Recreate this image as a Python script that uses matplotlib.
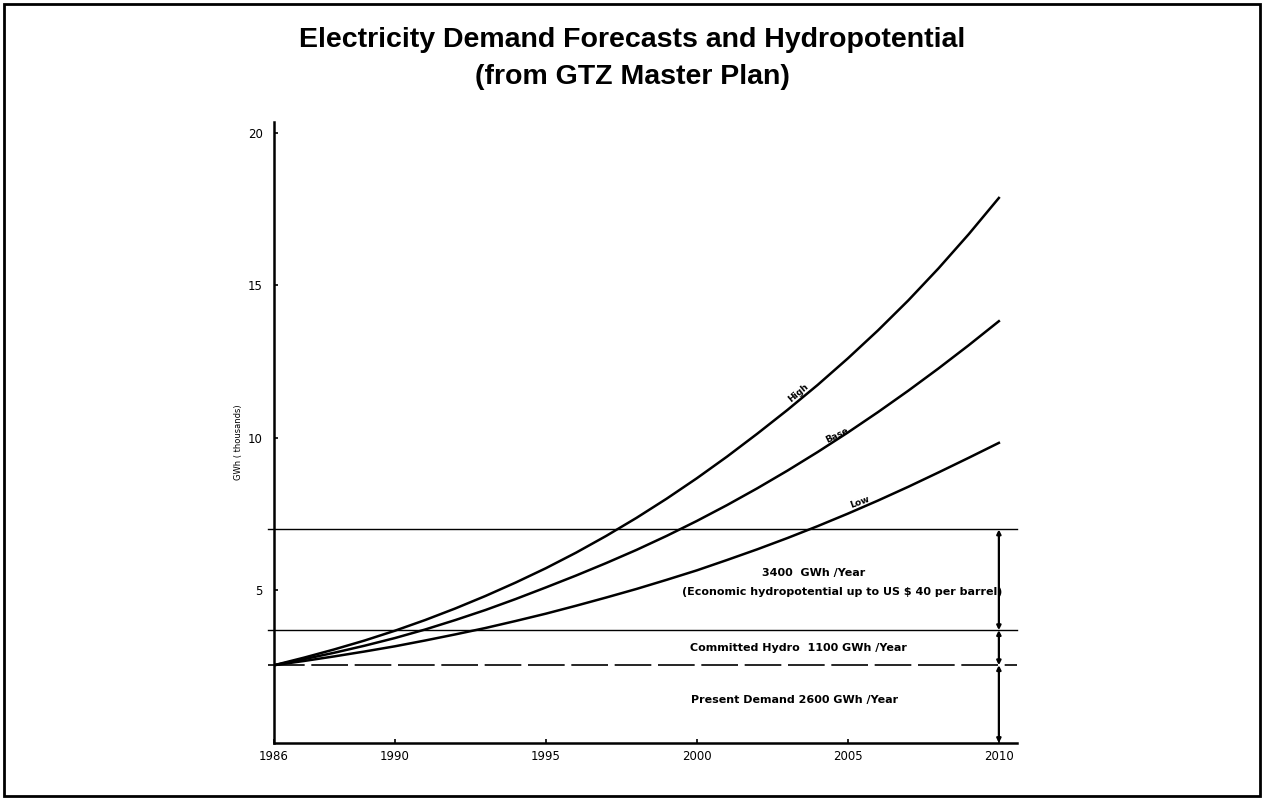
import matplotlib.pyplot as plt
from matplotlib.patches import Rectangle

# forecast curves (GWh thousands), one value per year
years = list(range(1986, 2011))
high = [2.55, 2.80, 3.07, 3.36, 3.68, 4.03, 4.41, 4.82, 5.26, 5.73, 6.24, 6.79,
        7.38, 8.01, 8.68, 9.39, 10.14, 10.92, 11.74, 12.61, 13.53, 14.51,
        15.56, 16.68, 17.87]
base = [2.55, 2.75, 2.96, 3.19, 3.44, 3.72, 4.03, 4.36, 4.72, 5.10, 5.49, 5.90,
        6.33, 6.79, 7.28, 7.80, 8.35, 8.93, 9.54, 10.18, 10.85, 11.55, 12.28,
        13.04, 13.83]
low = [2.55, 2.69, 2.84, 3.00, 3.17, 3.36, 3.56, 3.77, 4.00, 4.24, 4.50, 4.77,
       5.05, 5.35, 5.66, 6.00, 6.35, 6.72, 7.11, 7.52, 7.95, 8.40, 8.87, 9.35,
       9.84]

present = 2.55
committed = 3.7
economic = 7.0

xticks = [1986, 1990, 1995, 2000, 2005, 2010]
yticks = [5, 10, 15, 20]

fig = plt.figure(figsize=(12.64, 7.98), dpi=100)
ax = fig.add_axes([274 / 1264, 1 - 743 / 798, 743 / 1264, 621 / 798])

for vals, name, lx, ly, rot in [(high, "High", 2003.45, 11.35, 40),
                                (base, "Base", 2004.7, 9.95, 26),
                                (low, "Low", 2005.45, 7.75, 20)]:
    ax.plot(years, vals, color="black", lw=1.8)
    ax.text(lx, ly, name, rotation=rot, fontsize=6.5, fontweight="bold",
            ha="center", va="bottom", rotation_mode="anchor")

# level lines, starting just left of the y axis like the original
ax.axhline(economic, xmin=-0.008, color="black", lw=1.0, clip_on=False)
ax.axhline(committed, xmin=-0.008, color="black", lw=1.0, clip_on=False)
ax.axhline(present, xmin=-0.008, color="black", lw=1.2, dashes=(22, 4),
           clip_on=False)

# the bracket arrows on the right
for y0, y1 in [(0, present), (present, committed), (committed, economic)]:
    ax.annotate("", xy=(2010, y1), xytext=(2010, y0),
                arrowprops=dict(arrowstyle="<|-|>", color="black", lw=1.6,
                                shrinkA=0, shrinkB=0, mutation_scale=6))

tfont = dict(fontsize=8, fontweight="bold", ha="center", va="center")
ax.text(2003.85, 5.57, "3400  GWh /Year", **tfont)
ax.text(2004.8, 4.95, "(Economic hydropotential up to US $ 40 per barrel)", **tfont)
ax.text(2003.35, 3.11, "Committed Hydro  1100 GWh /Year", **tfont)
ax.text(2003.25, 1.41, "Present Demand 2600 GWh /Year", **tfont)

ax.set_xlim(1986, 2010.6)
ax.set_ylim(0, 20.36)
ax.set_xticks(xticks)
ax.set_yticks(yticks)
ax.tick_params(direction="in", length=3, width=1.2, labelsize=8.5)
ax.tick_params(axis="x", pad=5)
ax.tick_params(axis="y", pad=8)
for s in ["top", "right"]:
    ax.spines[s].set_visible(False)
for s in ["left", "bottom"]:
    ax.spines[s].set_linewidth(1.8)

fig.text(238 / 1264, 1 - 442 / 798, "GWh ( thousands)", rotation=90,
         fontsize=6, ha="center", va="center")

fig.text(0.5, 1 - 40 / 798, "Electricity Demand Forecasts and Hydropotential",
         fontsize=20.5, fontweight="bold", family="Liberation Sans",
         ha="center", va="center")
fig.text(0.5, 1 - 77 / 798, "(from GTZ Master Plan)",
         fontsize=20.5, fontweight="bold", family="Liberation Sans",
         ha="center", va="center")

fig.patches.append(Rectangle((4 / 1264, 2 / 798), 1256 / 1264, 792 / 798,
                             transform=fig.transFigure, fill=False,
                             edgecolor="black", lw=2))

fig.savefig("out.png", dpi=100)
